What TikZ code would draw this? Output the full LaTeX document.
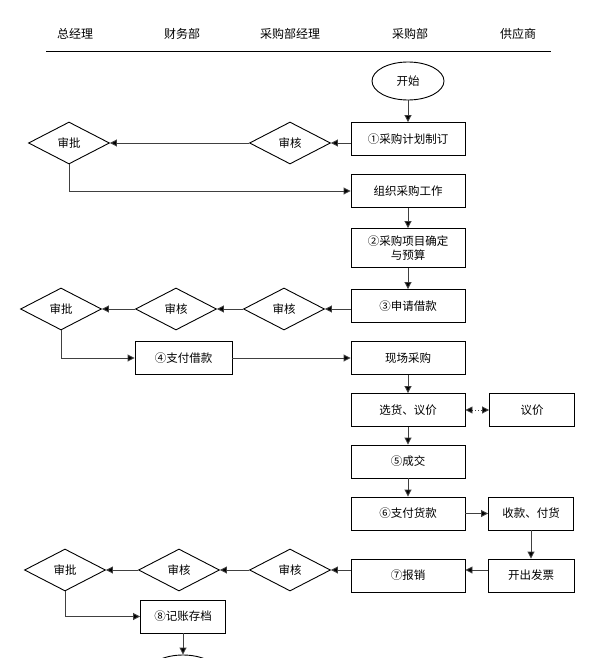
\documentclass[tikz,border=0pt]{standalone}
\usepackage{fontspec}
\setmainfont{Noto Sans CJK SC}
\usetikzlibrary{arrows.meta,shapes.geometric}
\begin{document}
\begin{tikzpicture}[x=1pt,y=-1pt,
  txt/.style={font=\fontsize{11.5}{14}\selectfont},
  box/.style={txt,draw,line width=0.9pt,minimum width=114pt,minimum height=33pt,inner sep=0pt,align=center},
  sbox/.style={box,minimum width=86pt},
  dia/.style={txt,draw,diamond,line width=0.9pt,minimum width=81pt,minimum height=42pt,inner sep=0pt},
  oval/.style={txt,draw,ellipse,line width=0.9pt,minimum width=72pt,minimum height=38pt,inner sep=0pt},
  conn/.style={draw=black!75,line width=0.9pt,-{Triangle[length=7pt,width=7pt,fill=black]}},
  hdr/.style={font=\fontsize{12}{14}\selectfont}]
\useasboundingbox (0,0) rectangle (612,658);
\clip (0,0) rectangle (612,658);
% header
\node[hdr] (h1) at (75,34) {总经理};
\node[hdr] (h2) at (182,34) {财务部};
\node[hdr] (h3) at (290,34) {采购部经理};
\node[hdr] (h4) at (410,34) {采购部};
\node[hdr] (h5) at (518,34) {供应商};
\coordinate (l1) at (46,51);
\coordinate (l2) at (551,51);
\draw[line width=0.9pt] (l1) -- (l2);
% nodes
\node[oval] (start) at (408,81) {开始};
\node[box] (b1) at (408,139) {①采购计划制订};
\node[dia] (a1) at (290,143) {审核};
\node[dia] (p1) at (69,143) {审批};
\node[box] (b2) at (408,191) {组织采购工作};
\node[box,minimum height=39pt] (b3) at (408,248) {②采购项目确定\\与预算};
\node[box] (b4) at (408,306) {③申请借款};
\node[dia] (a2) at (284,309) {审核};
\node[dia] (a3) at (176,309) {审核};
\node[dia] (p2) at (61,309) {审批};
\node[box,minimum width=97pt] (b5) at (183.5,358) {④支付借款};
\node[box] (b6) at (408,358) {现场采购};
\node[box] (b7) at (408,410) {选货、议价};
\node[sbox,minimum width=85pt] (v1) at (532,410) {议价};
\node[box] (b8) at (408,461.5) {⑤成交};
\node[box] (b9) at (408,513.5) {⑥支付货款};
\node[sbox,minimum width=85pt] (s1) at (531,513.5) {收款、付货};
\node[sbox] (s2) at (531,575.5) {开出发票};
\node[box] (b10) at (408,575.5) {⑦报销};
\node[dia] (a4) at (290,570) {审核};
\node[dia] (a5) at (179,570) {审核};
\node[dia] (p3) at (65,570) {审批};
\node[sbox,minimum width=85pt] (b11) at (183,616.5) {⑧记账存档};
\node[oval] (end) at (183,674) {};
% connectors
\draw[conn] (start) -- (b1);
\draw[conn] (b1.west |- a1) -- (a1.east);
\draw[conn] (a1) -- (p1);
\draw[conn] (p1.south) |- (b2.west);
\draw[conn] (b2) -- (b3);
\draw[conn] (b3) -- (b4);
\draw[conn] (b4.west |- a2) -- (a2.east);
\draw[conn] (a2) -- (a3);
\draw[conn] (a3) -- (p2);
\draw[conn] (p2.south) |- (b5.west);
\draw[conn] (b5) -- (b6);
\draw[conn] (b6) -- (b7);
\draw[draw=black!75,line width=0.9pt,dotted,{Triangle[length=7pt,width=7pt,fill=black]}-{Triangle[length=7pt,width=7pt,fill=black]}] (b7) -- (v1);
\draw[conn] (b7) -- (b8);
\draw[conn] (b8) -- (b9);
\draw[conn] (b9) -- (s1);
\draw[conn] (s1) -- (s2);
\draw[conn] (s2.west |- a4) -- (b10.east |- a4);
\draw[conn] (b10.west |- a4) -- (a4.east);
\draw[conn] (a4) -- (a5);
\draw[conn] (a5) -- (p3);
\draw[conn] (p3.south) |- (b11.west);
\draw[conn] (b11) -- (end);
\end{tikzpicture}
\end{document}
